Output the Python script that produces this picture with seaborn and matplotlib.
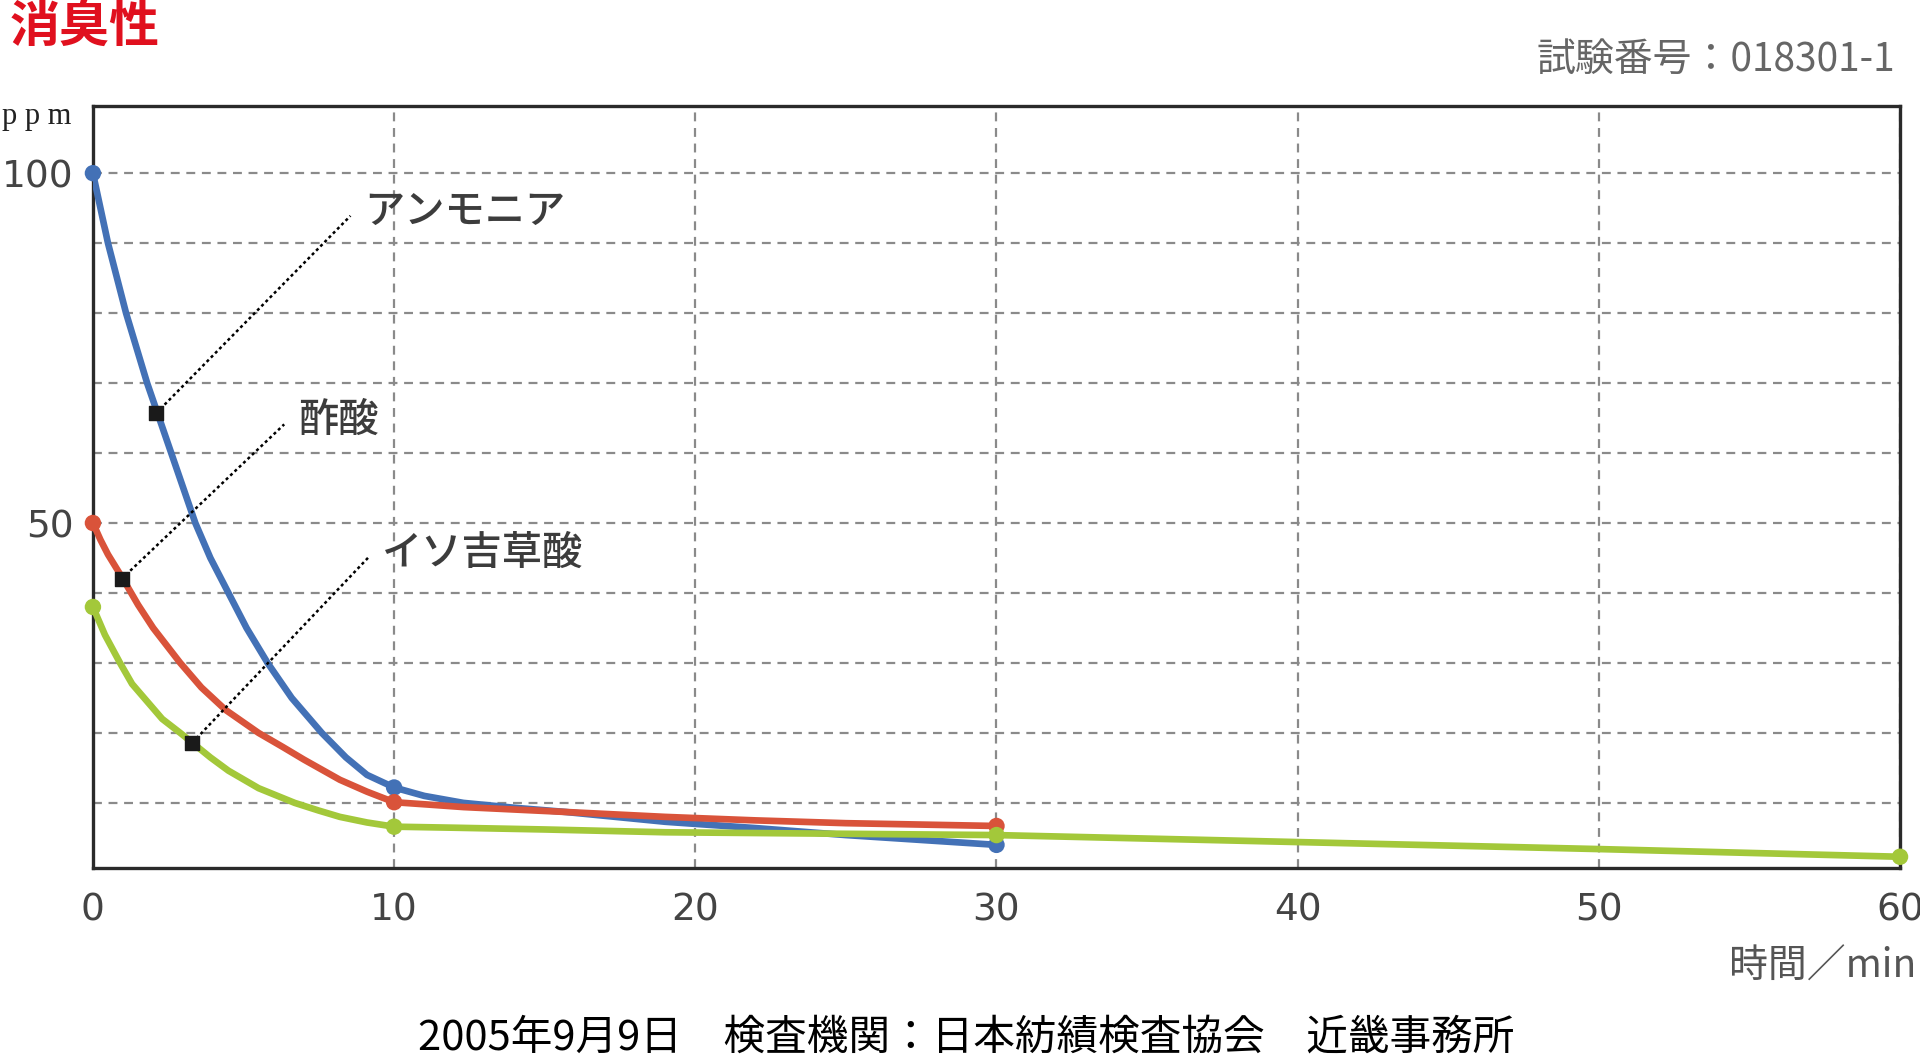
import pandas as pd
import seaborn as sns
import matplotlib.pyplot as plt

# measured points (ppm) at each sampling time
ammonia_t = [0, 10, 30]
ammonia_ppm = [100, 12.2, 4.0]
acetic_t = [0, 10, 30]
acetic_ppm = [50, 10.1, 6.7]
iso_t = [0, 10, 30, 60]
iso_ppm = [38, 6.6, 5.4, 2.3]

# curve traces
ammonia_curve_t = [0, 0.25, 0.5, 0.8, 1.1, 1.45, 1.8, 2.2, 2.6, 3.0, 3.4, 3.9, 4.5, 5.1, 5.8, 6.6,
                   7.6, 8.4, 9.1, 10, 11, 12.3, 14, 15.7, 19, 22, 25, 30]
ammonia_curve_ppm = [100, 95, 90, 85, 80, 75, 70, 65, 60, 55, 50, 45, 40, 35, 30, 25,
                     20, 16.5, 14.0, 12.2, 11.0, 10.0, 9.3, 8.7, 7.3, 6.4, 5.4, 4.0]
acetic_curve_t = [0, 0.25, 0.5, 1.0, 1.5, 2.0, 2.9, 3.6, 4.4, 5.5, 6.3, 7.0, 8.2, 9.1, 10,
                  11, 12.3, 15.7, 19, 22, 25, 30]
acetic_curve_ppm = [50, 47.6, 45.5, 42, 38.3, 35, 30, 26.5, 23.3, 20, 18, 16.2, 13.3, 11.6, 10.1,
                    9.8, 9.4, 8.7, 8.0, 7.5, 7.1, 6.7]
iso_curve_t = [0, 0.2, 0.4, 0.9, 1.3, 1.8, 2.3, 2.9, 3.3, 3.9, 4.5, 5.5, 6.7, 7.5, 8.2, 9.1,
               10, 12, 15, 19, 30, 40, 50, 60]
iso_curve_ppm = [38, 36, 34, 30, 27, 24.5, 22, 20, 18.6, 16.5, 14.6, 12.1, 10, 8.9, 8.0, 7.2,
                 6.6, 6.45, 6.2, 5.8, 5.4, 4.4, 3.4, 2.3]

labels = ["アンモニア", "酢酸", "イソ吉草酸"]
colors = ["#4371b6", "#d9533a", "#a3c83a"]

# annotation anchors on the curves and where the labels sit
anchor_t = [2.1, 0.95, 3.3]
anchor_ppm = [65.7, 42.0, 18.6]
label_t = [9.0, 6.8, 9.6]
label_ppm = [94.5, 64.7, 45.7]

curves = pd.concat([
    pd.DataFrame({"t": ammonia_curve_t, "ppm": ammonia_curve_ppm, "gas": labels[0]}),
    pd.DataFrame({"t": acetic_curve_t, "ppm": acetic_curve_ppm, "gas": labels[1]}),
    pd.DataFrame({"t": iso_curve_t, "ppm": iso_curve_ppm, "gas": labels[2]}),
])
points = pd.concat([
    pd.DataFrame({"t": ammonia_t, "ppm": ammonia_ppm, "gas": labels[0]}),
    pd.DataFrame({"t": acetic_t, "ppm": acetic_ppm, "gas": labels[1]}),
    pd.DataFrame({"t": iso_t, "ppm": iso_ppm, "gas": labels[2]}),
])

sns.set_style("white")
plt.rcParams['font.family'] = ['Noto Sans CJK JP', 'DejaVu Sans']
cjk = ['Noto Sans CJK JP', 'DejaVu Sans']
narrow = ['Liberation Sans Narrow', 'DejaVu Sans']

fig = plt.figure(figsize=(19.2, 10.59), dpi=100)
ax = fig.add_axes([0.0484, 0.1804, 0.9412, 0.7195])

palette = dict(zip(labels, colors))
sns.lineplot(data=curves, x="t", y="ppm", hue="gas", palette=palette, sort=False,
             linewidth=4.8, legend=False, ax=ax, zorder=3)
ax.lines[0].set_solid_joinstyle("round")
for ln in ax.lines:
    ln.set_solid_joinstyle("round")
    ln.set_solid_capstyle("round")
sns.scatterplot(data=points, x="t", y="ppm", hue="gas", palette=palette, s=140,
                edgecolor="none", legend=False, ax=ax, zorder=4, clip_on=False)

# pointer lines to the labels
for i in range(3):
    ax.plot([anchor_t[i], label_t[i] - 0.45], [anchor_ppm[i], label_ppm[i] - 0.6],
            color="black", linestyle=(0, (1.2, 1.2)), linewidth=1.8, zorder=5)
    ax.scatter([anchor_t[i]], [anchor_ppm[i]], marker="s", s=110, color="#1a1a1a", zorder=6)
    ax.text(label_t[i], label_ppm[i], labels[i], fontsize=29, color="#3c3c3c",
            ha="left", va="center", family=cjk, fontweight="medium", zorder=6)

ax.set_xlim(0, 60)
ax.set_ylim(0.7, 109.6)
ax.set_xticks([0, 10, 20, 30, 40, 50, 60])
ax.set_xticklabels(["0", "10", "20", "30", "40", "50", "60"], family=narrow, fontsize=27, color="#444444")
ax.set_yticks(list(range(10, 101, 10)))
ax.set_yticklabels(["" if v not in (50, 100) else str(v) for v in range(10, 101, 10)],
                   family=narrow, fontsize=27, color="#444444")
ax.tick_params(axis="both", length=0)
ax.tick_params(axis="x", pad=18)
ax.tick_params(axis="y", pad=14)
ax.set_xlabel("")
ax.set_ylabel("")

ax.grid(True, color="#8a8a8a", linestyle=(0, (4, 3)), linewidth=1.6)
for sp in ax.spines.values():
    sp.set_visible(True)
    sp.set_color("#2a2a2a")
    sp.set_linewidth(2.4)

fig.text(0.005, 0.997, "消臭性", fontsize=36, fontweight="bold", color="#e0101e",
         ha="left", va="top", family=cjk)
fig.text(0.987, 0.943, "試験番号：018301-1", fontsize=28, color="#666666",
         ha="right", va="center", family=cjk)
fig.text(0.001, 0.89, "p p m", fontsize=22, color="#222222", ha="left", va="center",
         family=['Liberation Serif', 'DejaVu Serif'])
fig.text(0.998, 0.087, "時間／min", fontsize=28, color="#555555", ha="right", va="center",
         family=cjk)
fig.text(0.503, 0.02, "2005年9月9日　検査機関：日本紡績検査協会　近畿事務所", fontsize=30,
         color="black", ha="center", va="center", family=cjk)

fig.savefig("out.png", dpi=100)
